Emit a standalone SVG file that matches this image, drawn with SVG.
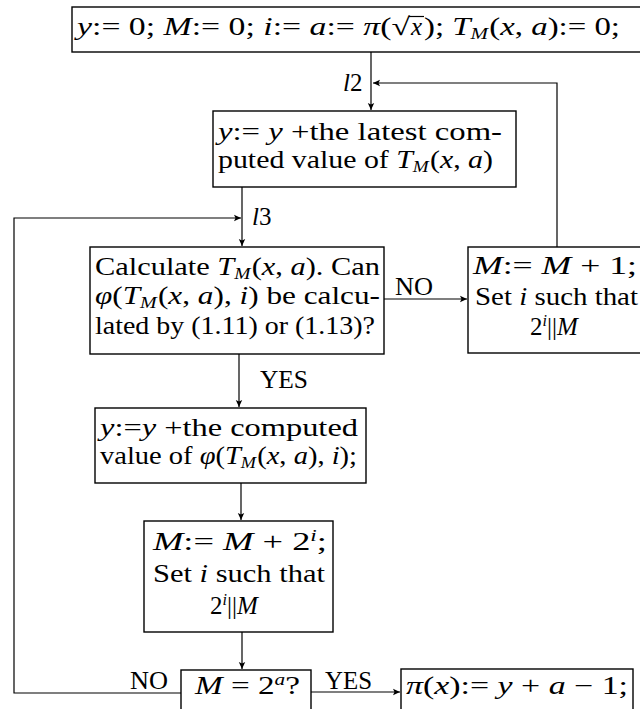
<svg xmlns="http://www.w3.org/2000/svg" width="640" height="709" viewBox="0 0 640 709">
<defs>
<style>
.box{fill:#fff;stroke:#000;stroke-width:1.4}
.ln{fill:none;stroke:#000;stroke-width:1.2}
.t{font-family:"Liberation Serif","Times New Roman",serif;font-size:25px;fill:#000}
.i{font-style:italic}
.s{font-size:16px;font-style:italic}
</style>
<marker id="ah" markerWidth="8" markerHeight="8" refX="7" refY="4" orient="auto" markerUnits="userSpaceOnUse">
<path d="M0,0.8 L7,4 L0,7.2 L1.5,4 Z" fill="#000"/>
</marker>
</defs>
<rect width="640" height="709" fill="#fff"/>

<g id="connectors">
<path class="ln" d="M371,52 V110" marker-end="url(#ah)"/>
<path class="ln" d="M557,247 V83 H373" marker-end="url(#ah)"/>
<path class="ln" d="M242,187 V246" marker-end="url(#ah)"/>
<path class="ln" d="M181,693 H14 V218 H241" marker-end="url(#ah)"/>
<path class="ln" d="M239,354 V407" marker-end="url(#ah)"/>
<path class="ln" d="M384,299 H467" marker-end="url(#ah)"/>
<path class="ln" d="M241,483 V520" marker-end="url(#ah)"/>
<path class="ln" d="M242,632 V669" marker-end="url(#ah)"/>
<path class="ln" d="M311,692 H400" marker-end="url(#ah)"/>
<text class="t" x="343" y="91"><tspan class="i">l</tspan>2</text>
<text class="t" x="252" y="225"><tspan class="i">l</tspan>3</text>
<text class="t" x="260" y="388" textLength="48" lengthAdjust="spacingAndGlyphs">YES</text>
<text class="t" x="395" y="295" textLength="38" lengthAdjust="spacingAndGlyphs">NO</text>
<text class="t" x="130" y="689" textLength="38" lengthAdjust="spacingAndGlyphs">NO</text>
<text class="t" x="325" y="689" textLength="47" lengthAdjust="spacingAndGlyphs">YES</text>
</g>

<g id="init">
<rect class="box" x="72" y="7" width="590" height="45"/>
<text class="t" x="77" y="35" textLength="333" lengthAdjust="spacingAndGlyphs"><tspan class="i">y</tspan>:= 0;  <tspan class="i">M</tspan>:= 0;  <tspan class="i">i</tspan>:= <tspan class="i">a</tspan>:= <tspan class="i">π</tspan>(√</text>
<text class="t i" x="411" y="35">x</text>
<line class="ln" x1="409" y1="16.5" x2="424" y2="16.5"/>
<text class="t" x="424" y="35" textLength="196" lengthAdjust="spacingAndGlyphs">);  <tspan class="i">T</tspan><tspan class="s" dy="4">M</tspan><tspan dy="-4" dx="1">(</tspan><tspan class="i">x</tspan>, <tspan class="i">a</tspan>):= 0;</text>
</g>

<g id="add-latest">
<rect class="box" x="213" y="111" width="303" height="76"/>
<text class="t" x="218" y="140" textLength="284" lengthAdjust="spacingAndGlyphs"><tspan class="i">y</tspan>:= <tspan class="i">y</tspan> +the latest com-</text>
<text class="t" x="218" y="168" textLength="275" lengthAdjust="spacingAndGlyphs">puted value of <tspan class="i">T</tspan><tspan class="s" dy="4">M</tspan><tspan dy="-4" dx="1">(</tspan><tspan class="i">x</tspan>, <tspan class="i">a</tspan>)</text>
</g>

<g id="calculate">
<rect class="box" x="90" y="247" width="294" height="107"/>
<text class="t" x="95" y="275" textLength="285" lengthAdjust="spacingAndGlyphs">Calculate <tspan class="i">T</tspan><tspan class="s" dy="4">M</tspan><tspan dy="-4" dx="1">(</tspan><tspan class="i">x</tspan>, <tspan class="i">a</tspan>). Can</text>
<text class="t" x="95" y="304" textLength="285" lengthAdjust="spacingAndGlyphs"><tspan class="i">φ</tspan>(<tspan class="i">T</tspan><tspan class="s" dy="4">M</tspan><tspan dy="-4" dx="1">(</tspan><tspan class="i">x</tspan>, <tspan class="i">a</tspan>), <tspan class="i">i</tspan>)  be  calcu-</text>
<text class="t" x="95" y="334" textLength="280" lengthAdjust="spacingAndGlyphs">lated by (1.11) or (1.13)?</text>
</g>

<g id="increment">
<rect class="box" x="468" y="247" width="190" height="106"/>
<text class="t" x="473" y="274" textLength="164" lengthAdjust="spacingAndGlyphs"><tspan class="i">M</tspan>:= <tspan class="i">M</tspan> + 1;</text>
<text class="t" x="475" y="305" textLength="163" lengthAdjust="spacingAndGlyphs">Set <tspan class="i">i</tspan> such that</text>
<text class="t" x="530" y="335">2<tspan class="s" dy="-9">i</tspan><tspan dy="9">||</tspan><tspan class="i">M</tspan></text>
</g>

<g id="add-phi">
<rect class="box" x="95" y="408" width="271" height="75"/>
<text class="t" x="100" y="436" textLength="258" lengthAdjust="spacingAndGlyphs"><tspan class="i">y</tspan>:=<tspan class="i">y</tspan> +the  computed</text>
<text class="t" x="100" y="464" textLength="257" lengthAdjust="spacingAndGlyphs">value of <tspan class="i">φ</tspan>(<tspan class="i">T</tspan><tspan class="s" dy="4">M</tspan><tspan dy="-4" dx="1">(</tspan><tspan class="i">x</tspan>, <tspan class="i">a</tspan>), <tspan class="i">i</tspan>);</text>
</g>

<g id="step">
<rect class="box" x="144" y="521" width="189" height="111"/>
<text class="t" x="153" y="550" textLength="174" lengthAdjust="spacingAndGlyphs"><tspan class="i">M</tspan>:=  <tspan class="i">M</tspan> + 2<tspan class="s" dy="-9">i</tspan><tspan dy="9">;</tspan></text>
<text class="t" x="153" y="582" textLength="172" lengthAdjust="spacingAndGlyphs">Set <tspan class="i">i</tspan> such that</text>
<text class="t" x="210" y="614">2<tspan class="s" dy="-9">i</tspan><tspan dy="9">||</tspan><tspan class="i">M</tspan></text>
</g>

<g id="check">
<rect class="box" x="181" y="670" width="130" height="50"/>
<text class="t" x="195" y="694" textLength="105" lengthAdjust="spacingAndGlyphs"><tspan class="i">M</tspan> = 2<tspan class="s" dy="-9">a</tspan><tspan dy="9">?</tspan></text>
</g>

<g id="result">
<rect class="box" x="401" y="669" width="232" height="50"/>
<text class="t" x="406" y="694" textLength="222" lengthAdjust="spacingAndGlyphs"><tspan class="i">π</tspan>(<tspan class="i">x</tspan>):= <tspan class="i">y</tspan> + <tspan class="i">a</tspan> − 1;</text>
</g>
</svg>
